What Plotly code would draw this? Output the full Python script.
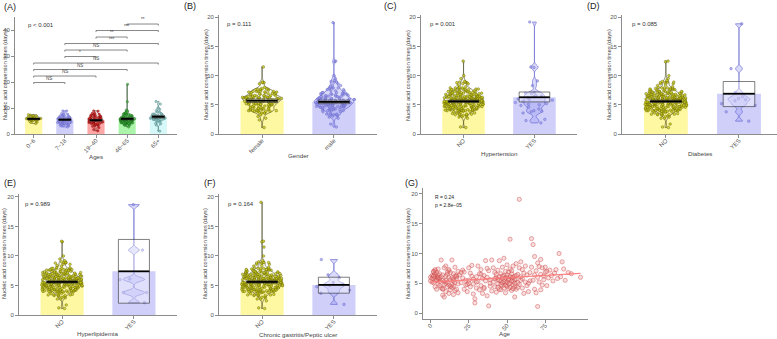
import plotly.graph_objects as go

W, H = 777, 339
FONT = "Liberation Sans, Arial, sans-serif"

# ---------------- data ----------------
AGES = [
    0, 1, 1, 2, 2, 2, 3, 3, 3, 3,
    4, 4, 4, 4, 5, 5, 5, 5, 6, 6,
    6, 6, 1, 2, 3, 4, 5, 0, 2, 5,
    7, 7, 7, 8, 8, 8, 8, 9, 9, 9,
    10, 10, 10, 10, 11, 11, 11, 12, 12, 12,
    12, 13, 13, 13, 14, 14, 14, 15, 15, 15,
    15, 16, 16, 16, 17, 17, 17, 18, 18, 18,
    9, 11, 13, 15, 17, 8, 10, 12, 14, 16,
    19, 20, 21, 22, 22, 23, 24, 25, 25, 26,
    27, 27, 28, 28, 29, 29, 30, 30, 31, 31,
    32, 32, 33, 33, 34, 34, 35, 35, 36, 36,
    37, 37, 38, 38, 39, 39, 40, 40, 21, 24,
    26, 28, 30, 33, 35, 37, 39, 20, 23, 25,
    41, 41, 42, 42, 43, 43, 44, 44, 45, 45,
    45, 46, 46, 46, 47, 47, 47, 48, 48, 48,
    49, 49, 49, 50, 50, 50, 51, 51, 51, 52,
    52, 52, 52, 53, 53, 53, 54, 54, 54, 55,
    55, 55, 56, 56, 56, 57, 57, 58, 58, 58,
    59, 59, 59, 60, 60, 60, 61, 61, 62, 62,
    63, 63, 64, 64, 65, 65, 44, 45, 46, 47,
    48, 49, 50, 50, 51, 51, 52, 53, 54, 54,
    55, 56, 57, 42, 43, 44, 47, 49, 53, 55,
    66, 67, 68, 66, 67, 68, 69, 69, 70, 70,
    71, 71, 72, 72, 73, 73, 74, 74, 75, 75,
    76, 77, 78, 79, 80, 81, 82, 83, 84, 85,
    86, 87, 88, 90, 92, 98, 68, 70, 72, 76,
]
DAYS = [
    6.0, 5.8, 6.3, 7.0, 5.1, 6.2, 4.4, 6.5, 5.9, 7.1,
    5.5, 6.8, 4.0, 6.1, 5.7, 7.4, 4.9, 6.0, 5.3, 6.6,
    5.8, 4.6, 5.2, 6.9, 7.3, 5.6, 6.4, 5.4, 6.2, 5.9,
    4.2, 6.1, 8.9, 3.0, 5.5, 6.4, 4.1, 7.6, 4.8, 2.7,
    6.2, 5.0, 3.6, 7.9, 4.4, 6.5, 5.2, 3.3, 6.0, 4.7,
    7.1, 5.6, 3.9, 6.8, 4.3, 5.9, 8.9, 3.1, 5.4, 6.6,
    4.6, 7.7, 3.8, 5.1, 6.3, 4.0, 5.8, 3.4, 7.0, 4.9,
    5.3, 6.9, 4.5, 5.7, 6.1, 4.0, 5.5, 7.3, 4.8, 6.2,
    6.4, 5.1, 7.2, 4.0, 6.9, 5.5, 3.6, 7.6, 5.0, 4.4,
    6.2, 8.0, 4.9, 5.7, 2.4, 1.7, 6.1, 4.2, 7.9, 5.3,
    3.9, 6.6, 4.6, 7.3, 5.8, 3.3, 6.3, 4.1, 8.8, 5.4,
    2.9, 6.0, 1.2, 7.1, 4.5, 5.6, 8.9, 3.7, 5.9, 4.8,
    6.7, 3.2, 5.2, 6.5, 4.3, 7.5, 5.0, 6.8, 4.7, 5.5,
    5.2, 7.6, 4.4, 6.8, 5.9, 3.5, 7.2, 4.9, 6.1, 4.0,
    8.8, 5.4, 6.6, 3.9, 7.7, 4.6, 5.8, 6.3, 4.2, 9.2,
    5.1, 7.0, 3.4, 6.0, 4.5, 8.1, 5.6, 4.1, 6.9, 12.4,
    5.0, 7.4, 4.3, 5.9, 3.8, 6.6, 4.7, 7.9, 5.3, 2.7,
    6.2, 4.4, 5.7, 8.3, 4.0, 6.5, 5.1, 19.1, 7.6, 4.8,
    5.5, 8.6, 6.1, 4.2, 7.3, 5.8, 3.3, 6.7, 5.2, 7.9,
    4.6, 6.4, 5.0, 3.6, 6.8, 5.4, 5.6, 5.5, 4.8, 6.2,
    5.3, 5.9, 5.2, 6.4, 4.9, 5.7, 6.1, 5.4, 4.1, 6.0,
    5.0, 6.3, 4.3, 5.8, 6.5, 4.3, 5.1, 4.7, 7.1, 5.6,
    12.5, 11.5, 9.5, 7.7, 5.5, 6.4, 3.4, 7.1, 6.0, 1.1,
    7.8, 5.2, 6.5, 9.0, 4.7, 7.6, 6.2, 5.6, 7.7, 6.9,
    4.6, 5.9, 7.2, 6.3, 5.4, 6.7, 7.3, 5.8, 10.0, 6.1,
    8.6, 7.4, 5.5, 6.8, 6.6, 6.0, 4.0, 8.4, 3.9, 7.0,
]
SEX = ("FMFMMFFMFM" "MFFMFMFMMF" "FMMFFMFMFM" "MFMFFMMFMF" "FMFMMFFMFM"
       "MFFMFMFMMF" "FMMFFMFMFM" "MFMFFMMFMF" "FMFMMFFMFM" "MFFMFMFMMF"
       "FMMFFMFMFM" "MFMFFMMFMF" "FMFMMFFMFM" "MFFMFMFMMF" "FMMFFMFMFM"
       "MFMFFMMFMM" "FMFMMFFMFM" "MFFMFMFMMF" "FMMFFMFMFM" "MFMFFMMFMF"
       "FMFMMFFMFM" "MFFMFMFMMF" "MFMFFMMFMF" "FMFMMFFMFM" "MFFMFMFMMF"
       "FMMFFMFMFM")

AGE_LABELS = ["0~6", "7~18", "19~40", "46~65", "65+"]
AGE_LOW = [0, 7, 19, 41, 66]
AGE_HIGH = [6, 18, 40, 65, 200]
A_MEANS = [5.8, 5.5, 5.3, 5.8, 6.6]
A_HDI_LO = [5.5, 5.2, 4.9, 5.4, 6.1]
A_HDI_HI = [6.1, 5.8, 5.6, 6.2, 7.1]

SEX_LABELS = ["female", "male"]
B_MEANS = [5.7, 5.5]
B_HDI_LO = [5.4, 5.2]
B_HDI_HI = [6.0, 5.8]

YN_LABELS = ["NO", "YES"]
HTN_YES = [19.2, 11.5, 11.4, 9.1, 8.3, 7.1, 6.9, 6.6, 6.4, 6.2, 6.0, 5.9, 5.8, 5.6, 5.4,
           5.2, 5.0, 4.9, 4.6, 4.3, 4.0, 3.8, 3.6, 2.5, 2.3, 1.9, 6.5, 7.0, 5.1, 3.9]
C_MEANS = [5.6, 6.3]
C_HDI_LO = [5.4, 5.5]
C_HDI_HI = [5.8, 7.2]

DM_YES = [18.9, 11.2, 7.1, 6.4, 6.1, 5.9, 5.7, 5.2, 3.8, 2.2, 4.9]
D_MEANS = [5.6, 6.9]
D_HDI_LO = [5.4, 4.7]
D_HDI_HI = [5.8, 9.0]

HLP_YES = [18.7, 11.0, 6.1, 6.0, 3.8, 3.8, 2.1]
E_MEANS = [5.6, 7.4]
E_HDI_LO = [5.4, 2.0]
E_HDI_HI = [5.8, 12.8]

GAS_YES = [9.4, 6.8, 6.3, 5.5, 5.2, 5.0, 4.8, 4.2, 3.7, 1.8]
F_MEANS = [5.6, 5.1]
F_HDI_LO = [5.4, 3.7]
F_HDI_HI = [5.8, 6.4]

BRACKET_PAIRS = [(1, 2), (1, 3), (1, 4), (1, 5), (2, 3), (2, 4), (2, 5), (3, 4), (3, 5), (4, 5)]
BRACKET_LABELS = ["NS", "NS", "NS", "NS", "*", "NS", "***", "**", "***", "**"]
BRACKET_Y = [19.8, 22.3, 24.8, 27.3, 29.8, 32.3, 34.8, 37.3, 39.8, 42.3]

P_TEXTS = ["p < 0.001", "p = 0.111", "p = 0.001", "p = 0.085", "p = 0.989", "p = 0.164"]
G_R_TEXT = "R = 0.24"
G_P_TEXT = "p = 2.8e\u221205"
G_FIT_INTERCEPT = 5.2
G_FIT_SLOPE = 0.0149


# ---------------- helpers ----------------
def without(values, removed):
    pool = list(values)
    for v in removed:
        k = min(range(len(pool)), key=lambda i: abs(pool[i] - v))
        pool.pop(k)
    return pool


YELLOW = dict(bar="#FFF8A3", pt="rgba(205,205,25,0.8)", ptl="rgba(80,80,0,0.85)",
              vl="rgba(50,50,10,0.8)", vf="rgba(255,255,140,0.15)")
BLUE = dict(bar="#CFCFFA", pt="rgba(145,145,235,0.65)", ptl="rgba(95,95,190,0.8)",
            vl="rgba(95,95,205,0.9)", vf="rgba(150,150,240,0.35)")
RED = dict(bar="#FFA6A6", pt="rgba(215,35,35,0.8)", ptl="rgba(110,0,0,0.85)",
           vl="rgba(90,0,0,0.8)", vf="rgba(255,120,120,0.15)")
GREEN = dict(bar="#AAF5AA", pt="rgba(70,185,70,0.8)", ptl="rgba(20,95,20,0.85)",
             vl="rgba(20,60,20,0.85)", vf="rgba(120,240,120,0.15)")
CYAN = dict(bar="#D6F8F8", pt="rgba(150,205,205,0.8)", ptl="rgba(60,115,115,0.85)",
            vl="rgba(60,110,110,0.8)", vf="rgba(180,240,240,0.15)")

fig = go.Figure()


def pirate(k, pos, values, mean, lo, hi, col, bw, vw, psize=2.6):
    xa, ya = ("x%d" % k if k > 1 else "x"), ("y%d" % k if k > 1 else "y")
    fig.add_trace(go.Bar(x=[pos], y=[mean], width=bw, marker=dict(color=col["bar"], line=dict(width=0)),
                         xaxis=xa, yaxis=ya, showlegend=False, hoverinfo="skip"))
    # bean (density outline)
    fig.add_trace(go.Violin(x0=pos, y=values, width=vw, points=False, spanmode="hard", scalemode="width",
                            bandwidth=0.35, line=dict(color=col["vl"], width=0.7), fillcolor=col["vf"],
                            box_visible=False, meanline_visible=False,
                            xaxis=xa, yaxis=ya, showlegend=False, hoverinfo="skip", name="v%d_%s" % (k, pos)))
    # raw points, jittered by the library across the bar width
    fig.add_trace(go.Box(x0=pos, y=values, width=bw * 0.95, boxpoints="all", jitter=1, pointpos=0,
                         fillcolor="rgba(0,0,0,0)", line=dict(color="rgba(0,0,0,0)", width=0),
                         whiskerwidth=0,
                         marker=dict(size=psize, color=col["pt"], line=dict(color=col["ptl"], width=0.45)),
                         xaxis=xa, yaxis=ya, showlegend=False, hoverinfo="skip", name="p%d_%s" % (k, pos)))
    hw = bw * 0.36
    fig.add_trace(go.Scatter(x=[pos - hw, pos + hw, pos + hw, pos - hw, pos - hw], y=[lo, lo, hi, hi, lo],
                             mode="lines", fill="toself", fillcolor="rgba(255,255,255,0.35)",
                             line=dict(color="rgba(40,40,40,0.85)", width=0.7),
                             xaxis=xa, yaxis=ya, showlegend=False, hoverinfo="skip"))
    fig.add_trace(go.Scatter(x=[pos - hw, pos + hw], y=[mean, mean], mode="lines",
                             line=dict(color="black", width=1.8),
                             xaxis=xa, yaxis=ya, showlegend=False, hoverinfo="skip"))


# Panel A
A_COLS = [YELLOW, BLUE, RED, GREEN, CYAN]
for i in range(5):
    grp = [d for a, d in zip(AGES, DAYS) if AGE_LOW[i] <= a <= AGE_HIGH[i]]
    pirate(1, i + 1, grp, A_MEANS[i], A_HDI_LO[i], A_HDI_HI[i], A_COLS[i], 0.55, 0.45, 2.3)
for (a, b), lab, h in zip(BRACKET_PAIRS, BRACKET_LABELS, BRACKET_Y):
    fig.add_trace(go.Scatter(x=[a, a, b, b], y=[h - 0.6, h, h, h - 0.6], mode="lines",
                             line=dict(color="#555", width=0.7), xaxis="x", yaxis="y",
                             showlegend=False, hoverinfo="skip"))
    fig.add_annotation(x=(a + b) / 2, y=h, xref="x", yref="y", text=lab, showarrow=False,
                       yanchor="bottom", font=dict(size=4.5, color="#444", family=FONT))

# Panel B
female = [d for d, s in zip(DAYS, SEX) if s == "F"]
male = [d for d, s in zip(DAYS, SEX) if s == "M"]
for i, (grp, col) in enumerate([(female, YELLOW), (male, BLUE)]):
    pirate(2, i + 1, grp, B_MEANS[i], B_HDI_LO[i], B_HDI_HI[i], col, 0.6, 0.55)

# Panels C-F
for k, yes, means, lo, hi in [(3, HTN_YES, C_MEANS, C_HDI_LO, C_HDI_HI),
                              (4, DM_YES, D_MEANS, D_HDI_LO, D_HDI_HI),
                              (5, HLP_YES, E_MEANS, E_HDI_LO, E_HDI_HI),
                              (6, GAS_YES, F_MEANS, F_HDI_LO, F_HDI_HI)]:
    no = without(DAYS, yes)
    pirate(k, 1, no, means[0], lo[0], hi[0], YELLOW, 0.6, 0.55)
    pirate(k, 2, yes, means[1], lo[1], hi[1], BLUE, 0.6, 0.3)

# Panel G
fig.add_trace(go.Scatter(x=AGES, y=DAYS, mode="markers",
                         marker=dict(size=4.2, color="rgba(235,140,140,0.28)",
                                     line=dict(color="rgba(205,70,70,0.65)", width=0.7)),
                         xaxis="x7", yaxis="y7", showlegend=False, hoverinfo="skip"))
xs = [min(AGES), max(AGES)]
fig.add_trace(go.Scatter(x=xs, y=[G_FIT_INTERCEPT + G_FIT_SLOPE * v for v in xs], mode="lines",
                         line=dict(color="rgba(255,120,120,0.9)", width=1.4),
                         xaxis="x7", yaxis="y7", showlegend=False, hoverinfo="skip"))


# ---------------- layout ----------------
def dx(a, b):
    return [a / W, b / W]


def dy(top, bot):
    return [1 - bot / H, 1 - top / H]


common = dict(showline=True, linecolor="#8c8c8c", linewidth=0.8, ticks="outside", ticklen=3,
              tickwidth=0.8, tickcolor="#8c8c8c", showgrid=False, zeroline=False,
              tickfont=dict(size=6, color="#555", family=FONT), fixedrange=True, automargin=False)

PANELS = [
    # x px domain, y px domain (top,bottom), x range, y range, y ticks, x ticks, x labels
    ((15, 177), (17, 134), [0.4, 5.6], [0, 45], [0, 10, 20, 30, 40], [1, 2, 3, 4, 5], AGE_LABELS),
    ((219, 377), (15, 134), [0.4, 2.6], [0, 20.4], [0, 5, 10, 15, 20], [1, 2], SEX_LABELS),
    ((421, 577), (15, 134), [0.4, 2.6], [0, 20.4], [0, 5, 10, 15, 20], [1, 2], YN_LABELS),
    ((622, 777), (15, 134), [0.4, 2.52], [0, 20.4], [0, 5, 10, 15, 20], [1, 2], YN_LABELS),
    ((19, 177), (194, 315), [0.4, 2.6], [0, 20.5], [0, 5, 10, 15, 20], [1, 2], YN_LABELS),
    ((219, 377), (194, 315), [0.4, 2.6], [0, 20.5], [0, 5, 10, 15, 20], [1, 2], YN_LABELS),
    ((423, 588), (188, 319), [-4.9, 102.9], [-1, 21], [0, 5, 10, 15, 20], [0, 25, 50, 75], ["0", "25", "50", "75"]),
]
lay = {}
for i, (xp, yp, xr, yr, yt, xt, xl) in enumerate(PANELS):
    k = i + 1
    xk = "xaxis" if k == 1 else "xaxis%d" % k
    yk = "yaxis" if k == 1 else "yaxis%d" % k
    lay[xk] = dict(common, domain=dx(*xp), range=xr, tickvals=xt, ticktext=xl, tickangle=-45,
                   ticklabelstandoff=-3, anchor="y" if k == 1 else "y%d" % k)
    lay[yk] = dict(common, domain=dy(*yp), range=yr, tickvals=yt,
                   anchor="x" if k == 1 else "x%d" % k)


def ann(x, y, text, size=6, xanchor="left", angle=0, color="#333"):
    fig.add_annotation(x=x / W, y=1 - y / H, xref="paper", yref="paper", text=text, showarrow=False,
                       font=dict(size=size, color=color, family=FONT), xanchor=xanchor,
                       yanchor="middle", textangle=angle)


YT = "Nucleic acid conversion times (days)"
for x, y in [(5, 75), (206, 75), (408, 75), (609, 75), (4, 254), (205, 254), (408, 253)]:
    ann(x, y, YT, 5.6, "center", -90, "#444")
for x, y, t in [(96, 156, "Ages"), (298, 155, "Gender"), (499, 153, "Hypertension"), (700, 153, "Diabetes"),
                (97, 333, "Hyperlipidemia"), (298, 334, "Chronic gastritis/Peptic ulcer"), (505, 333, "Age")]:
    ann(x, y, t, 6.2, "center", 0, "#444")
for x, y, t in [(2, 7, "(A)"), (182, 6, "(B)"), (382, 6, "(C)"), (585, 6, "(D)"),
                (2, 183, "(E)"), (202, 183, "(F)"), (403, 183, "(G)")]:
    ann(x, y, t, 9, "left", 0, "#222")
for (x, y), t in zip([(26, 25), (225, 24), (428, 24), (630, 24), (23, 204), (226, 204)], P_TEXTS):
    ann(x, y, t, 6, "left", 0, "#333")
ann(433, 197, G_R_TEXT, 5, "left", 0, "#222")
ann(433, 205, G_P_TEXT, 5, "left", 0, "#222")

fig.update_layout(width=W, height=H, margin=dict(l=0, r=0, t=0, b=0), template="none",
                  paper_bgcolor="white", plot_bgcolor="white", barmode="overlay",
                  violinmode="overlay", boxmode="overlay", showlegend=False,
                  font=dict(family=FONT), **lay)
fig.write_html("out.html")
